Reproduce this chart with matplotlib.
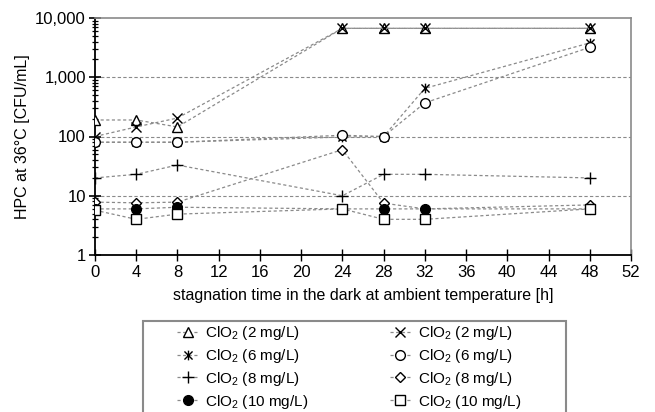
import matplotlib
matplotlib.use("Agg")
import matplotlib.pyplot as plt
from matplotlib.path import Path
from matplotlib.patches import Rectangle
from matplotlib.ticker import FuncFormatter, LogLocator, NullFormatter
import numpy as np

plt.rcParams['font.family'] = ['Liberation Sans', 'DejaVu Sans']
plt.rcParams['mathtext.default'] = 'regular'

# hours
t_all = [0, 4, 8, 24, 28, 32, 48]

tri_2 = [190, 190, 145, 6700, 6700, 6700, 6700]
x_2 = [100, 145, 205, 6700, 6700, 6700, 6700]
ast_6 = [80, 80, 80, 98, 100, 650, 3800]
circ_6 = [80, 80, 80, 105, 100, 370, 3200]
plus_8 = [20, 23, 33, 10, 23, 23, 20]
diam_8 = [7.8, 7.6, 7.8, 60, 7.5, 6.0, 7.0]
fcirc_10 = [6.0, 6.0, 6.4, 6.0, 6.0, 6.0, 6.0]
sq_10 = [5.7, 4.0, 4.9, 6.0, 4.0, 4.0, 6.0]

labels = ['ClO$_2$ (2 mg/L)', 'ClO$_2$ (2 mg/L)', 'ClO$_2$ (6 mg/L)', 'ClO$_2$ (6 mg/L)',
          'ClO$_2$ (8 mg/L)', 'ClO$_2$ (8 mg/L)', 'ClO$_2$ (10 mg/L)', 'ClO$_2$ (10 mg/L)']

x_ticks = list(range(0, 53, 4))
y_ticks = [1, 10, 100, 1000, 10000]

# asterisk marker: X with a vertical bar
ast_path = Path([(-1, -1), (1, 1), (-1, 1), (1, -1), (0, -1.2), (0, 1.2)],
                [Path.MOVETO, Path.LINETO, Path.MOVETO, Path.LINETO, Path.MOVETO, Path.LINETO])

series = [tri_2, x_2, ast_6, circ_6, plus_8, diam_8, fcirc_10, sq_10]
markers = ['^', 'x', ast_path, 'o', '+', 'D', 'o', 's']
msizes = [7, 7, 7, 7, 9, 5.5, 7, 7]
fills = ['white', 'black', 'black', 'white', 'black', 'white', 'black', 'white']

fig = plt.figure(figsize=(6.55, 4.12), dpi=100)
ax = fig.add_axes([95/655, 1-255/412, (631-95)/655, (255-18)/412])

handles = []
for vals, m, ms, fc, lab in zip(series, markers, msizes, fills, labels):
    h, = ax.plot(t_all, vals, linestyle=(0, (2.5, 2)), color='#8a8a8a', linewidth=0.9,
                 marker=m, markersize=ms, markerfacecolor=fc, markeredgecolor='black',
                 markeredgewidth=1.0, label=lab, zorder=3)
    handles.append(h)

ax.set_yscale('log')
ax.set_ylim(1, 10000)
ax.set_xlim(0, 52)
ax.set_xticks(x_ticks)
ax.set_yticks(y_ticks)
ax.yaxis.set_major_formatter(FuncFormatter(lambda v, p: f"{int(round(v)):,}"))
ax.yaxis.set_minor_locator(LogLocator(base=10, subs=np.arange(2, 10)))
ax.yaxis.set_minor_formatter(NullFormatter())

for yv in [10, 100, 1000]:
    ax.axhline(yv, color='#8a8a8a', linewidth=0.8, linestyle=(0, (3, 2)), zorder=1)

ax.tick_params(axis='y', which='major', direction='inout', length=9, width=1.2, labelsize=12, pad=2)
ax.tick_params(axis='y', which='minor', direction='inout', length=5, width=0.9)
ax.tick_params(axis='x', which='major', direction='inout', length=8, width=1.0, labelsize=12, pad=3)

ax.spines['left'].set_linewidth(1.3)
ax.spines['bottom'].set_linewidth(1.3)
ax.spines['top'].set_color('#8a8a8a')
ax.spines['right'].set_color('#8a8a8a')
ax.spines['top'].set_linewidth(1.2)
ax.spines['right'].set_linewidth(1.2)

ax.set_xlabel('stagnation time in the dark at ambient temperature [h]', fontsize=11.5, labelpad=6)
ax.set_ylabel('HPC at 36°C [CFU/mL]', fontsize=11.5, labelpad=4)

# legend order: column-first fill, so list left column then right column
order = [0, 2, 4, 6, 1, 3, 5, 7]
leg = fig.legend(handles=[handles[i] for i in order], loc='upper left',
                 bbox_to_anchor=(177/655, 1-324/412),
                 ncol=2, fontsize=11, frameon=False,
                 handlelength=1.4, columnspacing=5.3, labelspacing=0.32, borderpad=0,
                 handletextpad=0.45, borderaxespad=0)

fig.patches.append(Rectangle((143/655, -0.05), (566-143)/655, (412-321)/412 + 0.05,
                             transform=fig.transFigure, fill=False,
                             edgecolor='#8a8a8a', linewidth=1.5))

fig.savefig('out.png', dpi=100)
